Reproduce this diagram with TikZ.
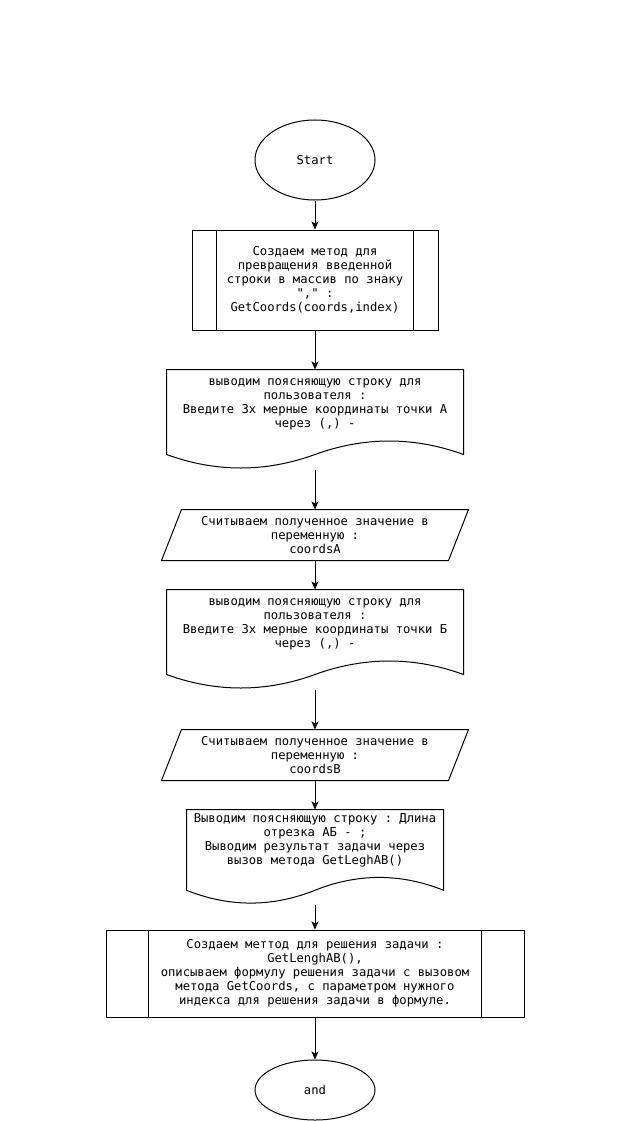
\documentclass[tikz,border=0pt]{standalone}
\usepackage{fontspec}
\setmonofont{DejaVu Sans Mono}
\usetikzlibrary{arrows.meta,shapes.geometric,calc}
\tikzset{every node/.style={font=\ttfamily\fontsize{12.2}{14}\selectfont,align=center,inner sep=0pt}}
\newcommand{\docoutline}[3]{%
  \draw (#1.north west) -- (#1.north east) -- ++(0,{0.85*#2})
    .. controls +({-#3/6},{-0.18*#2}) and +({#3/6},{-0.18*#2}) .. ($(#1.north)+(0,{0.85*#2})$)
    .. controls +({-#3/6},{0.18*#2}) and +({#3/6},{0.18*#2}) .. ($(#1.north west)+(0,{0.85*#2})$) -- cycle;
  \coordinate (#1end) at ($(#1.north)+(0,#2)$);}

\begin{document}
\begin{tikzpicture}[x=1pt,y=-1pt,line width=1pt,
    term/.style={ellipse,draw,minimum width=120pt,minimum height=#1},
    arr/.style={-{Stealth[length=8pt,width=7pt,inset=2pt]}}]
        \useasboundingbox (0,0) rectangle (631,1121);
        \node[term=80pt] (start) at (315,160) {Start};
        \node[draw,minimum width=246pt,minimum height=100pt] (sub1) at (315,280)
            {Создаем метод для\\превращения введенной\\строки в массив по знаку\\"," :\\GetCoords(coords,index)};
        \draw ([xshift=25pt]sub1.north west) -- ([xshift=25pt]sub1.south west)
            ([xshift=-25pt]sub1.north east) -- ([xshift=-25pt]sub1.south east);
        \node[minimum width=296pt,minimum height=68pt] (doc1) at (315,404)
            {выводим поясняющую строку для\\пользователя :\\Введите 3х мерные координаты точки А\\через (,) -};
        \docoutline{doc1}{100}{296}
        \node[minimum width=306pt,minimum height=50pt] (in1) at (315,535)
            {Считываем полученное значение в\\переменную :\\coordsA};
        \draw ([xshift=20pt]in1.north west) -- (in1.north east) -- ([xshift=-20pt]in1.south east) -- (in1.south west) -- cycle;
        \node[minimum width=296pt,minimum height=68pt] (doc2) at (315,624)
            {выводим поясняющую строку для\\пользователя :\\Введите 3х мерные координаты точки Б\\через (,) -};
        \docoutline{doc2}{100}{296}
        \node[minimum width=306pt,minimum height=50pt] (in2) at (315,755)
            {Считываем полученное значение в\\переменную :\\coordsB};
        \draw ([xshift=20pt]in2.north west) -- (in2.north east) -- ([xshift=-20pt]in2.south east) -- (in2.south west) -- cycle;
        \node[minimum width=256pt,minimum height=60pt] (doc3) at (315,840)
            {Выводим поясняющую строку : Длина\\отрезка АБ - ;\\Выводим результат задачи через\\вызов метода GetLeghAB()};
        \docoutline{doc3}{95}{256}
        \node[draw,minimum width=418pt,minimum height=87pt] (sub2) at (315,973.5)
            {Создаем меттод для решения задачи :\\GetLenghAB(),\\описываем формулу решения задачи с вызовом\\метода GetCoords, с параметром нужного\\индекса для решения задачи в формуле.};
        \draw ([xshift=43pt]sub2.north west) -- ([xshift=43pt]sub2.south west)
            ([xshift=-43pt]sub2.north east) -- ([xshift=-43pt]sub2.south east);
        \node[term=60pt] (stop) at (315,1090) {and};
        \draw[arr] (start) -- (sub1);
        \draw[arr] (sub1) -- (doc1);
        \draw[arr] (doc1end) -- (in1);
        \draw[arr] (in1) -- (doc2);
        \draw[arr] (doc2end) -- (in2);
        \draw[arr] (in2) -- (doc3);
        \draw[arr] (doc3end) -- (sub2);
        \draw[arr] (sub2) -- (stop);
    \end{tikzpicture}
\end{document}
